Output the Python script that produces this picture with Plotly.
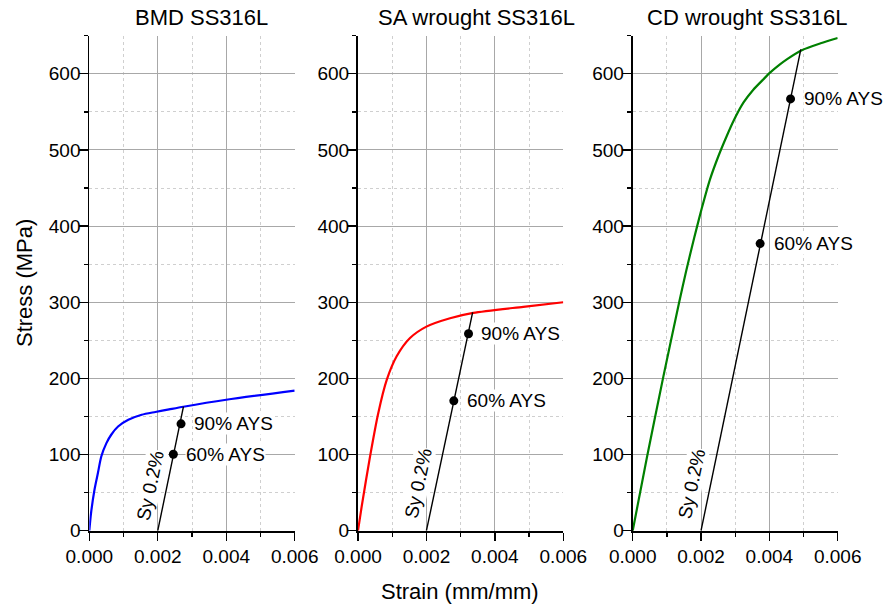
import plotly.graph_objects as go

FONT = "Liberation Sans, Arial, sans-serif"

titles = ["BMD SS316L", "SA wrought SS316L", "CD wrought SS316L"]
colors = ["#0000ff", "#ff0000", "#008000"]

# stress-strain curves (strain mm/mm, stress MPa)
bmd_strain = [0, 0.00005, 0.00015, 0.00025, 0.00035, 0.0005, 0.00064, 0.00084, 0.00114, 0.00153,
              0.00193, 0.00233, 0.00275, 0.004, 0.006]
bmd_stress = [0, 22.8, 53.5, 75.4, 97.4, 115, 126, 136.8, 145.6, 152.2,
              155.9, 159.3, 162.8, 172, 184]

sa_strain = [0, 0.000107, 0.00035, 0.00059, 0.00084, 0.00113, 0.00152, 0.002, 0.00269, 0.00337, 0.00483, 0.006]
sa_stress = [0, 31.6, 97, 154, 198, 229, 253, 268, 279, 286, 294, 300]

cd_strain = [0, 0.00042, 0.0009, 0.00136, 0.00156, 0.00173, 0.00187, 0.00202, 0.00226, 0.00251, 0.00275,
             0.00295, 0.00324, 0.00353, 0.00382, 0.00402, 0.0043, 0.00451, 0.00495, 0.0055, 0.006]
cd_stress = [0, 97, 203, 300, 340, 372, 397, 423, 461, 492, 518,
             538, 562, 579, 592.5, 601.5, 612, 619, 631, 640, 647]

# 0.2% offset lines (start at 0.002 strain, end at intersection)
offset_strain = [[0.002, 0.00275], [0.002, 0.00335], [0.002, 0.00492]]
offset_stress = [[0, 163], [0, 286.6], [0, 632]]

# 60% and 90% AYS points
ays_strain = [[0.002455, 0.00268], [0.0028, 0.00323], [0.00373, 0.00462]]
ays_stress = [[100.4, 140.3], [170.5, 258.6], [377, 567]]
ays_labels = ["60% AYS", "90% AYS"]
label_strain = [[0.0028, 0.00302], [0.003156, 0.003565], [0.0041, 0.004976]]

sy_label = "Sy 0.2%"
sy_pos = [(0.00177, 60), (0.00176, 62), (0.00173, 62)]

curves = [(bmd_strain, bmd_stress), (sa_strain, sa_stress), (cd_strain, cd_stress)]

W, H = 887, 607
xdom_px = [(89.3, 294.7), (358.0, 563.3), (632.7, 837.7)]
ydom = [1 - 530.7 / H, 1 - 35.7 / H]
title_x_px = [201.8, 476.7, 747.5]

fig = go.Figure()
annotations = []

for i in range(3):
    sfx = "" if i == 0 else str(i + 1)
    xa, ya = "x" + sfx, "y" + sfx
    s, t = curves[i]
    fig.add_trace(go.Scatter(x=s, y=t, mode="lines", xaxis=xa, yaxis=ya,
                             line=dict(color=colors[i], width=2.2, shape="spline", smoothing=0.7),
                             showlegend=False, hoverinfo="skip"))
    fig.add_trace(go.Scatter(x=offset_strain[i], y=offset_stress[i], mode="lines", xaxis=xa, yaxis=ya,
                             line=dict(color="black", width=1.4), showlegend=False, hoverinfo="skip"))
    fig.add_trace(go.Scatter(x=ays_strain[i], y=ays_stress[i], mode="markers", xaxis=xa, yaxis=ya,
                             marker=dict(color="black", size=9), showlegend=False, hoverinfo="skip"))
    for k in range(2):
        annotations.append(dict(x=label_strain[i][k], y=ays_stress[i][k], xref=xa, yref=ya,
                                text=ays_labels[k], showarrow=False, xanchor="left", yanchor="middle",
                                font=dict(family=FONT, size=19, color="black"),
                                bgcolor="white", borderpad=0))
    annotations.append(dict(x=sy_pos[i][0], y=sy_pos[i][1], xref=xa, yref=ya, text=sy_label,
                            showarrow=False, textangle=-78, xanchor="center", yanchor="middle",
                            font=dict(family=FONT, size=19, color="black"),
                            bgcolor="white", borderpad=0))
    annotations.append(dict(x=title_x_px[i] / W, y=1 - 17.5 / H, xref="paper", yref="paper",
                            text=titles[i], showarrow=False, xanchor="center", yanchor="middle",
                            font=dict(family=FONT, size=22, color="black")))

    xaxis = dict(domain=[xdom_px[i][0] / W, xdom_px[i][1] / W], anchor=ya, range=[0, 0.006],
                 tick0=0, dtick=0.002, tickformat=".3f", ticks="outside", ticklen=8, tickwidth=1.3,
                 tickcolor="black", showline=True, linecolor="black", linewidth=1.8,
                 showgrid=True, gridcolor="#a8a8a8", gridwidth=1, zeroline=False, automargin=False,
                 tickfont=dict(family=FONT, size=19, color="black"),
                 minor=dict(dtick=0.001, ticks="outside", ticklen=4, tickwidth=1.3, tickcolor="black",
                            showgrid=True, gridcolor="#cfcfcf", griddash="dot", gridwidth=1))
    yaxis = dict(domain=ydom, anchor=xa, range=[0, 650], tick0=0, dtick=100,
                 ticks="outside", ticklen=9, tickwidth=1.3, tickcolor="black", showticklabels=False,
                 showline=True, linecolor="black", linewidth=1.8, automargin=False,
                 showgrid=True, gridcolor="#a8a8a8", gridwidth=1, zeroline=False,
                 minor=dict(dtick=50, ticks="outside", ticklen=4, tickwidth=1.3, tickcolor="black",
                            showgrid=True, gridcolor="#cfcfcf", griddash="dot", gridwidth=1))
    # overlay axis carrying the tick labels (slightly closer to the axis line)
    lab_axis = dict(overlaying=ya, anchor=xa, side="left", range=[0, 650], tick0=0, dtick=100,
                    ticks="outside", ticklen=4, tickcolor="rgba(0,0,0,0)", showline=False,
                    showgrid=False, zeroline=False, automargin=False,
                    tickfont=dict(family=FONT, size=19, color="black"))
    fig.update_layout(**{"xaxis" + sfx: xaxis, "yaxis" + sfx: yaxis, "yaxis" + str(i + 4): lab_axis})
    fig.add_trace(go.Scatter(x=[None], y=[None], xaxis=xa, yaxis="y" + str(i + 4),
                             showlegend=False, hoverinfo="skip"))

annotations.append(dict(x=460 / W, y=1 - 591 / H, xref="paper", yref="paper", text="Strain (mm/mm)",
                        showarrow=False, xanchor="center", yanchor="middle",
                        font=dict(family=FONT, size=22, color="black")))
annotations.append(dict(x=24 / W, y=1 - 283 / H, xref="paper", yref="paper", text="Stress (MPa)",
                        showarrow=False, textangle=-90, xanchor="center", yanchor="middle",
                        font=dict(family=FONT, size=22, color="black")))

fig.update_layout(width=W, height=H, margin=dict(l=0, r=0, t=0, b=0, autoexpand=False),
                  paper_bgcolor="white", plot_bgcolor="white",
                  annotations=annotations, showlegend=False)

fig.write_html("out.html", config={"displayModeBar": False, "staticPlot": True},
               post_script="document.body.style.margin='0';document.body.style.overflow='hidden';")
